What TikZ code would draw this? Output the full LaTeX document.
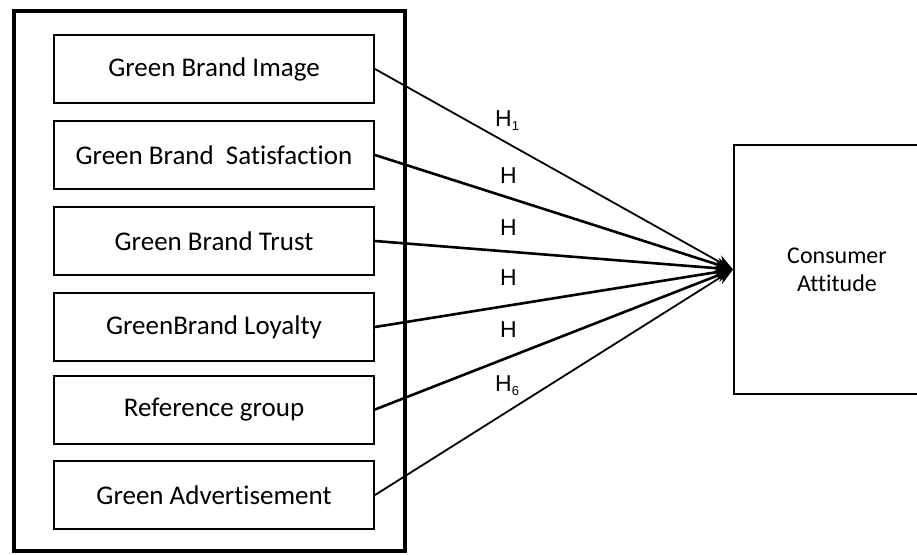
\documentclass[tikz,border=0pt]{standalone}
\usepackage{fontspec}
\setmainfont{Carlito}[Ligatures=NoCommon]
\newfontfamily\labelfont{Liberation Sans}
\usetikzlibrary{arrows.meta}

\tikzset{
    factor/.style={draw, line width=2pt, minimum width=320pt, minimum height=68pt,
        font=\fontsize{27}{31}\selectfont},
    hypo/.style={line width=2.6pt, -{Stealth[length=17pt,width=13pt]}},
    hypothin/.style={hypo, line width=1.8pt},
    hlabel/.style={anchor=base west, inner sep=0pt, font=\labelfont\fontsize{23}{23}\selectfont}
}
\newcommand{\hsub}[1]{\raisebox{-4.5pt}{\fontsize{13}{13}\selectfont #1}}

\begin{document}
\begin{tikzpicture}[x=1pt,y=-1pt]
        \useasboundingbox (0,0) rectangle (917,554);

        \node[draw, line width=4pt, minimum width=391pt, minimum height=540pt] (frame) at (209,281) {};

        \node[factor] (image) at (214,69) {Green Brand Image};
        \node[factor] (satisfaction) at (214,155) {Green Brand~ Satisfaction};
        \node[factor] (trust) at (214,241) {Green Brand Trust};
        \node[factor] (loyalty) at (214,327) {GreenBrand Loyalty};
        \node[factor] (refgroup) at (214,409.5) {Reference group};
        \node[factor] (advert) at (214,495) {Green Advertisement};

        \node[draw, line width=2pt, minimum width=206pt, minimum height=249pt, align=center,
            font=\fontsize{24}{28}\selectfont] (attitude) at (837,269.5) {Consumer\\Attitude};

        \draw[hypothin] (image.east) -- (attitude.west);
        \draw[hypo] (satisfaction.east) -- (attitude.west);
        \draw[hypo] (trust.east) -- (attitude.west);
        \draw[hypo] (loyalty.east) -- (attitude.west);
        \draw[hypo] (refgroup.east) -- (attitude.west);
        \draw[hypothin] (advert.east) -- (attitude.west);

        \node[hlabel] (h1) at (495,126) {H\hsub{1}};
        \node[hlabel] (h2) at (500,183) {H};
        \node[hlabel] (h3) at (500,235) {H};
        \node[hlabel] (h4) at (500,285) {H};
        \node[hlabel] (h5) at (500,337) {H};
        \node[hlabel] (h6) at (495,391) {H\hsub{6}};
    \end{tikzpicture}
\end{document}
